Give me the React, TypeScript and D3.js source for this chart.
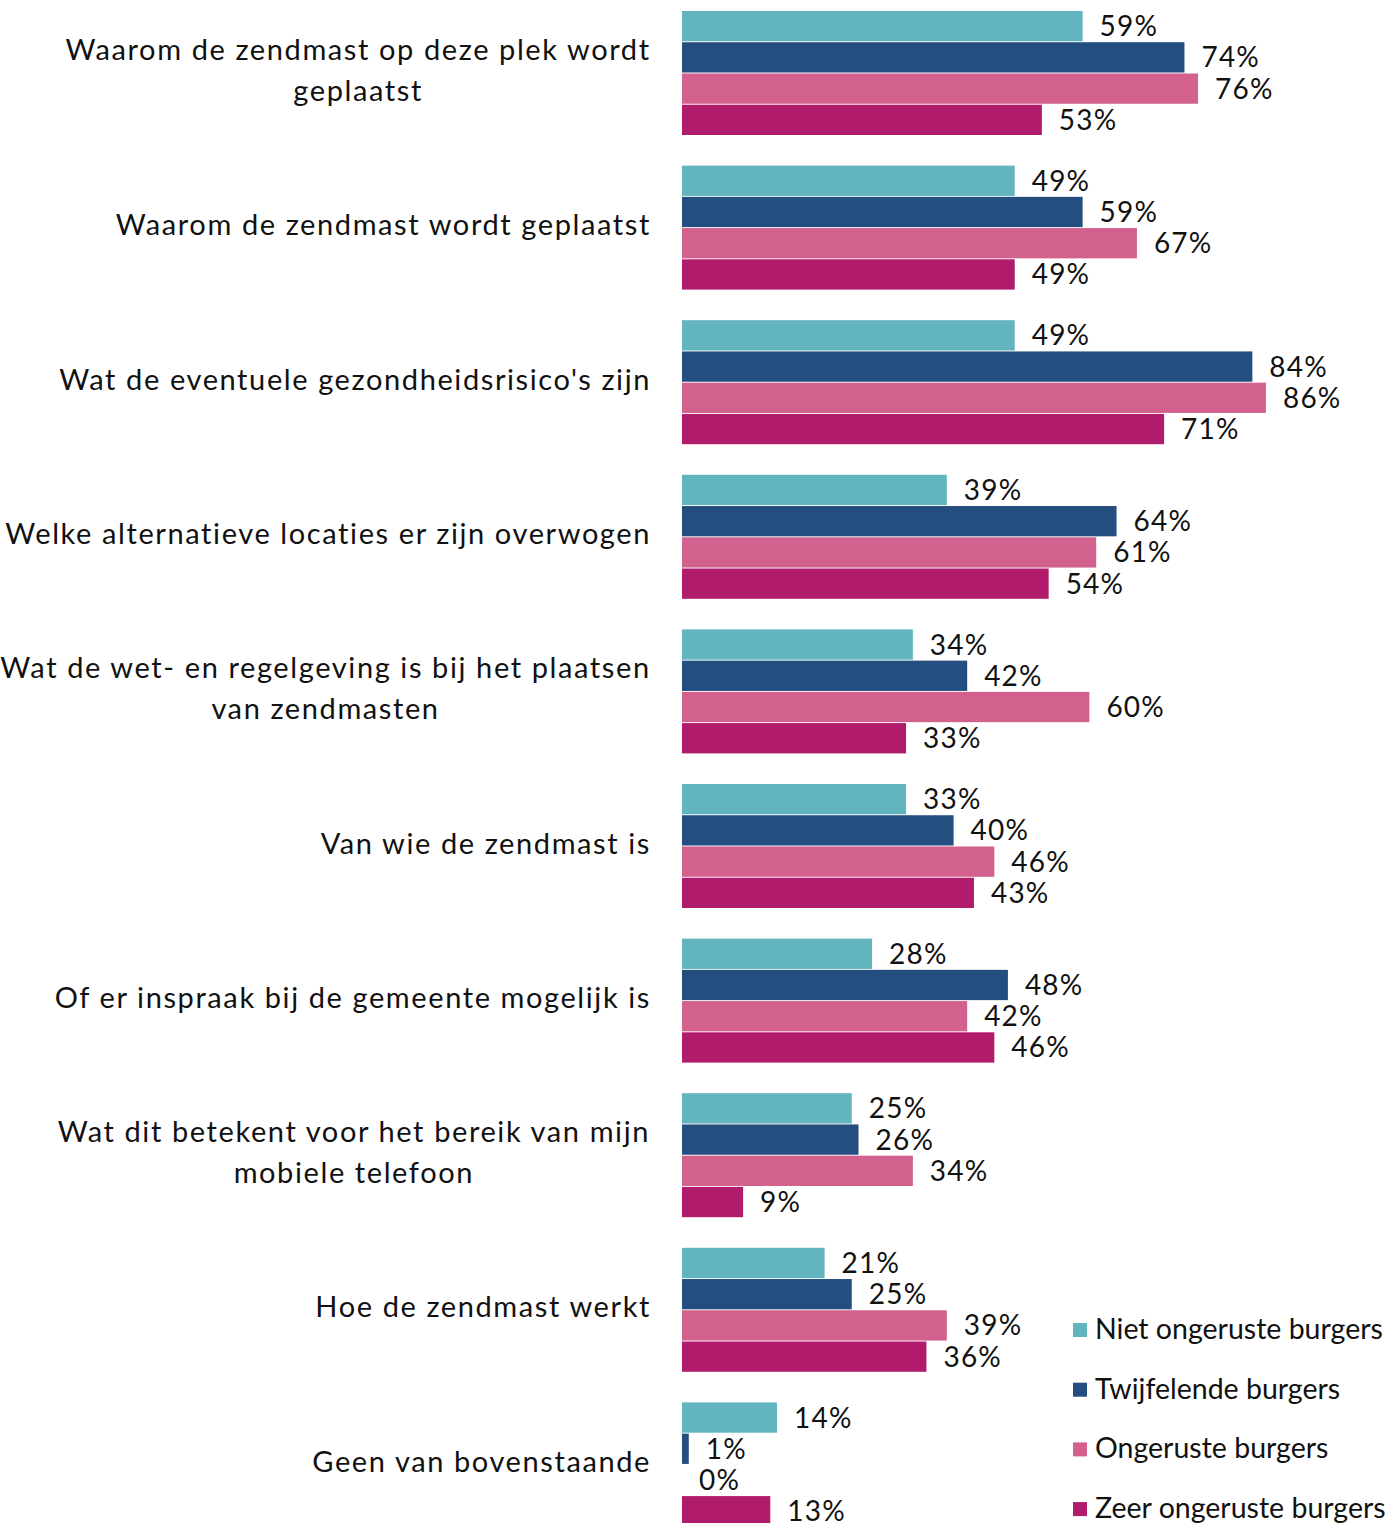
import React from "react";
import * as d3 from "d3";

const categories: string[][] = [
  ["Waarom de zendmast op deze plek wordt", "geplaatst"],
  ["Waarom de zendmast wordt geplaatst"],
  ["Wat de eventuele gezondheidsrisico's zijn"],
  ["Welke alternatieve locaties er zijn overwogen"],
  ["Wat de wet- en regelgeving is bij het plaatsen", "van zendmasten"],
  ["Van wie de zendmast is"],
  ["Of er inspraak bij de gemeente mogelijk is"],
  ["Wat dit betekent voor het bereik van mijn", "mobiele telefoon"],
  ["Hoe de zendmast werkt"],
  ["Geen van bovenstaande"],
];

const seriesNames = [
  "Niet ongeruste burgers",
  "Twijfelende burgers",
  "Ongeruste burgers",
  "Zeer ongeruste burgers",
];

const nietOngerust = [59, 49, 49, 39, 34, 33, 28, 25, 21, 14];
const twijfelend = [74, 59, 84, 64, 42, 40, 48, 26, 25, 1];
const ongerust = [76, 67, 86, 61, 60, 46, 42, 34, 39, 0];
const zeerOngerust = [53, 49, 71, 54, 33, 43, 46, 9, 36, 13];

const seriesValues = [nietOngerust, twijfelend, ongerust, zeerOngerust];
const colors = ["#62b4bf", "#254e80", "#d2618e", "#b01b6c"];

const W = 1387;
const H = 1523;
const FONT = "Lato, 'Noto Sans', sans-serif";
const FS = 29;
const LS = 1.6;

function measure(text: string): number {
  const c = document.createElement("canvas");
  const ctx = c.getContext("2d");
  if (!ctx) return text.length * FS * 0.5;
  ctx.font = `${FS}px ${FONT}`;
  return ctx.measureText(text).width + text.length * LS;
}

export default function App() {
  const x = d3.scaleLinear().domain([0, 100]).range([682, 682 + 679]);
  const step = 154.6;
  const groupH = 124;
  const yIn = d3.scaleBand<number>().domain([0, 1, 2, 3]).range([0, groupH]).paddingInner(0.03);
  const labelRight = 651;

  return (
    <div>
      <style>{`body{margin:0}`}</style>
      <svg width={W} height={H} style={{ display: "block", fontFamily: FONT }}>
        {categories.map((lines, i) => {
          const g0 = 11 + i * step;
          const cy = g0 + groupH / 2;
          const widths = lines.map(measure);
          const maxW = Math.max(...widths);
          const lh = 41;
          return (
            <g key={i}>
              {lines.map((ln, j) => (
                <text
                  key={j}
                  x={lines.length > 1 ? labelRight - maxW / 2 : labelRight}
                  y={cy + (j - (lines.length - 1) / 2) * lh - 4}
                  textAnchor={lines.length > 1 ? "middle" : "end"}
                  dominantBaseline="central"
                  fontSize={FS}
                  letterSpacing={LS}
                  fill="#111"
                >
                  {ln}
                </text>
              ))}
              {seriesValues.map((vals, s) => {
                const by = g0 + (yIn(s) as number);
                const bh = yIn.bandwidth();
                const v = vals[i];
                return (
                  <g key={s}>
                    <rect x={x(0)} y={by} width={x(v) - x(0)} height={bh} fill={colors[s]} />
                    <text
                      x={x(v) + 17}
                      y={by + bh / 2 - 1}
                      dominantBaseline="central"
                      fontSize={28}
                      letterSpacing={1.2}
                      fill="#111"
                    >
                      {v}%
                    </text>
                  </g>
                );
              })}
            </g>
          );
        })}
        {seriesNames.map((n, s) => {
          const ly = 1329 + s * 59.7;
          return (
            <g key={n}>
              <rect x={1073} y={ly - 6} width={14} height={14} fill={colors[s]} />
              <text x={1095} y={ly - 1} dominantBaseline="central" fontSize={28.5} fill="#111">
                {n}
              </text>
            </g>
          );
        })}
      </svg>
    </div>
  );
}
